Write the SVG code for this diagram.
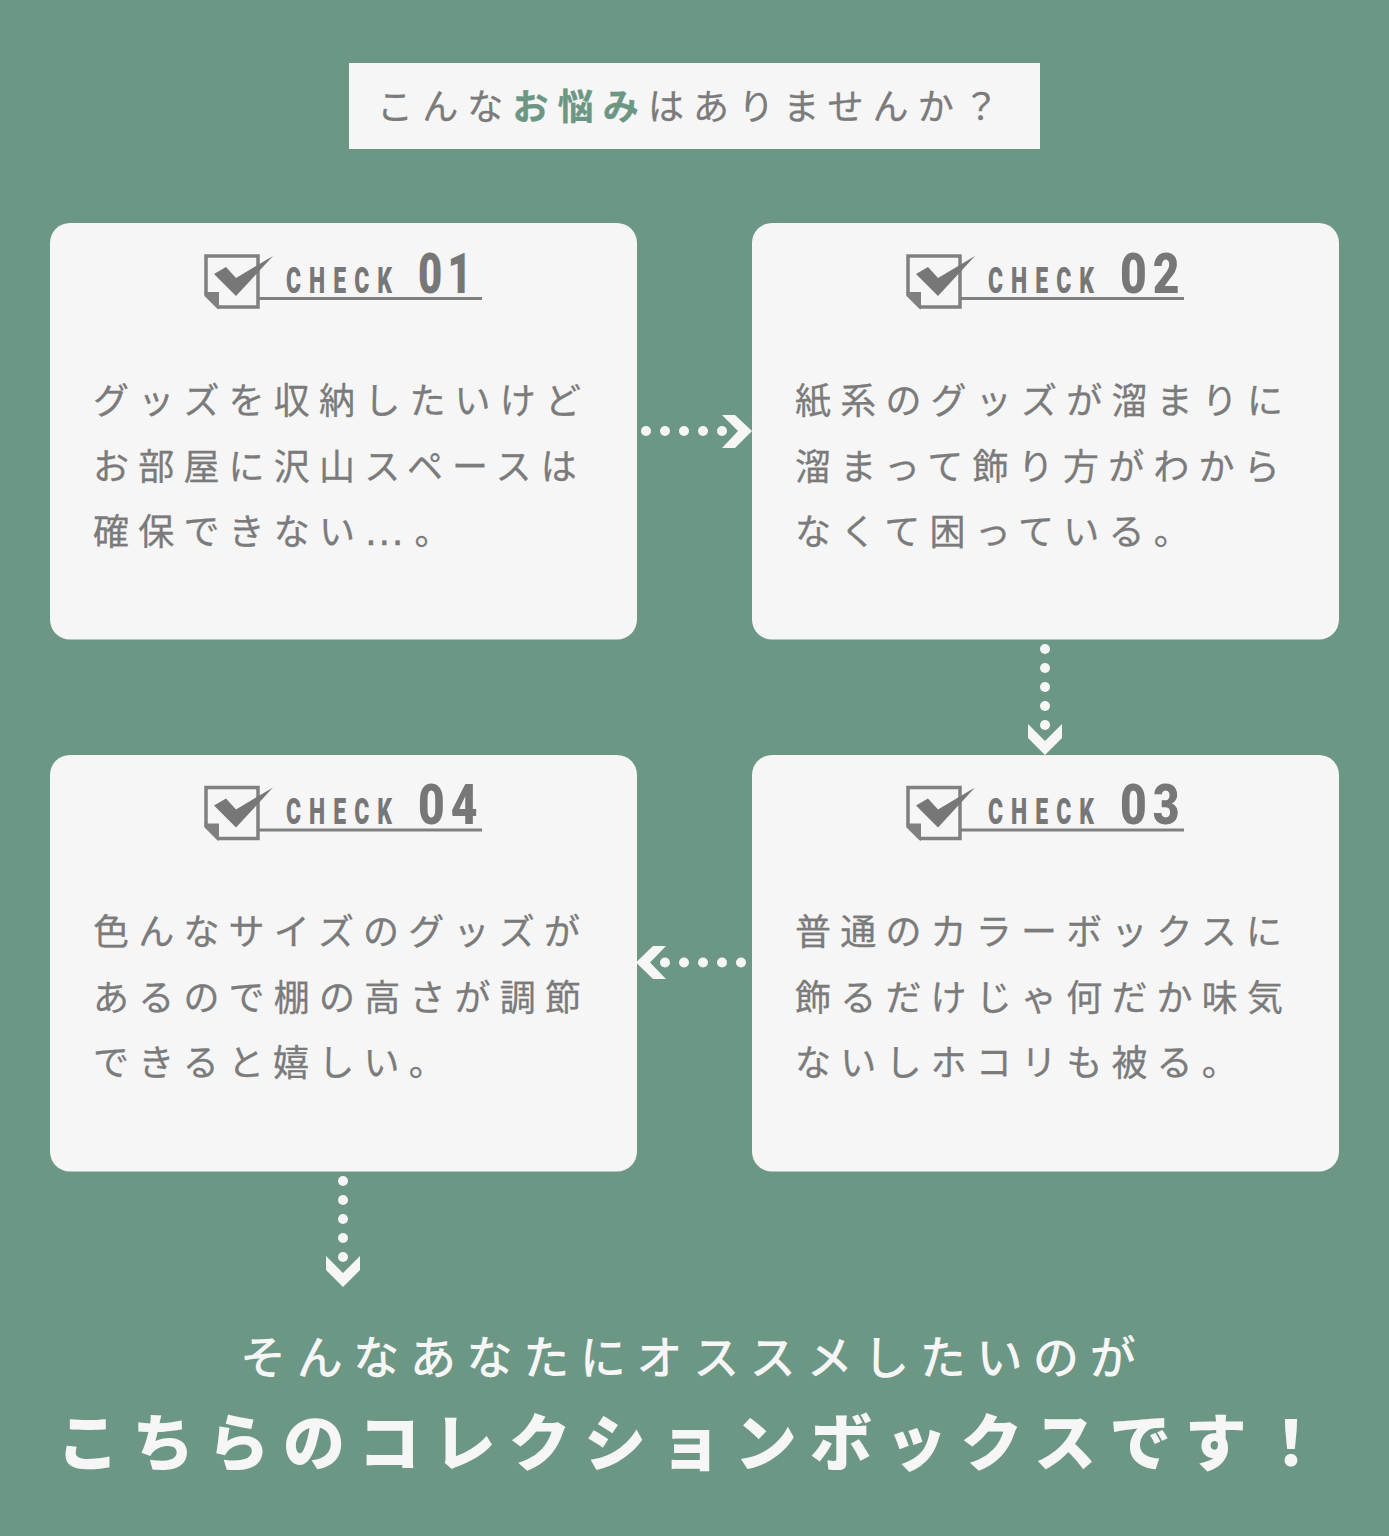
<svg xmlns="http://www.w3.org/2000/svg" width="1389" height="1536" viewBox="0 0 1389 1536">
<style>
.card{fill:#f6f6f6}
.t{font-family:"Noto Sans CJK JP","Noto Sans",sans-serif;font-size:36px;letter-spacing:9.2px;fill:#7b7b7b;stroke:#7b7b7b;stroke-width:.3px}
.chk{font-family:"Roboto","Liberation Sans",sans-serif;font-weight:900;fill:#777;}
.dot{fill:#f6f6f6}
</style>
<defs>
<g id="icon">
<path d="M206 256H258V307H218L206 295Z" fill="none" stroke="#808080" stroke-width="3.500"/>
<path d="M206 293H218V307Z" fill="#808080" stroke="#808080" stroke-width="2"/>
<path d="M214 274L226 267L236 278L273 256L236 296Z" fill="#777"/>
<rect x="258" y="297" width="224" height="3" fill="#808080"/>
</g>
<g id="dotsH"><circle cx="646" cy="431" r="5"/><circle cx="665" cy="431" r="5"/><circle cx="684" cy="431" r="5"/><circle cx="703" cy="431" r="5"/><circle cx="722" cy="431" r="5"/></g>
<g id="dotsV"><circle cx="1045" cy="649" r="5"/><circle cx="1045" cy="668" r="5"/><circle cx="1045" cy="687" r="5"/><circle cx="1045" cy="706" r="5"/><circle cx="1045" cy="725" r="5"/></g>
</defs>
<rect width="1389" height="1536" fill="#6c9785"/>
<g id="title">
<rect x="349" y="63" width="691" height="86" fill="#f6f6f6"/>
<text x="377" y="119.500" font-family="'Noto Sans CJK JP',sans-serif" font-size="36" letter-spacing="9.150" fill="#7b7b7b" stroke="#7b7b7b" stroke-width=".3">こんな<tspan fill="#6c9785" stroke="#6c9785" font-weight="700">お悩み</tspan>はありませんか？</text>
</g>
<g id="check1">
<rect class="card" x="50" y="223" width="587" height="416.500" rx="20"/>
<use href="#icon"/>
<text class="chk" transform="translate(286 293) scale(.62 1)" font-size="37" letter-spacing="13">CHECK</text>
<text class="chk" transform="translate(418 293) scale(.76 1)" font-size="55" letter-spacing="7">01</text>
<text class="t" x="93" y="414">グッズを収納したいけど</text>
<text class="t" x="93" y="479.500">お部屋に沢山スペースは</text>
<text class="t" x="93" y="545">確保できない<tspan font-family="'Liberation Sans',sans-serif" font-size="42" dx="-1">…</tspan>。</text>
</g>
<g id="check2">
<rect class="card" x="752" y="223" width="587" height="416.500" rx="20"/>
<use href="#icon" x="702"/>
<text class="chk" transform="translate(1120 293) scale(.84 1)" font-size="55" letter-spacing="7">02</text>
<text class="chk" transform="translate(988 293) scale(.62 1)" font-size="37" letter-spacing="13">CHECK</text>
<text class="t" x="795" y="414">紙系のグッズが溜まりに</text>
<text class="t" x="795" y="479.500">溜まって飾り方がわから</text>
<text class="t" x="795" y="545">なくて困っている。</text>
</g>
<g id="check3">
<rect class="card" x="752" y="755" width="587" height="416.500" rx="20"/>
<use href="#icon" x="702" y="531.500"/>
<text class="chk" transform="translate(988 824) scale(.62 1)" font-size="37" letter-spacing="13">CHECK</text>
<text class="chk" transform="translate(1120 824) scale(.84 1)" font-size="55" letter-spacing="7">03</text>
<text class="t" x="795" y="945">普通のカラーボックスに</text>
<text class="t" x="795" y="1010.500">飾るだけじゃ何だか味気</text>
<text class="t" x="795" y="1076">ないしホコリも被る。</text>
</g>
<g id="check4">
<rect class="card" x="50" y="755" width="587" height="416.500" rx="20"/>
<use href="#icon" y="531.500"/>
<text class="chk" transform="translate(286 824) scale(.62 1)" font-size="37" letter-spacing="13">CHECK</text>
<text class="chk" transform="translate(418 824) scale(.84 1)" font-size="55" letter-spacing="7">04</text>
<text class="t" x="93" y="945">色んなサイズのグッズが</text>
<text class="t" x="93" y="1010.500">あるので棚の高さが調節</text>
<text class="t" x="93" y="1076">できると嬉しい。</text>
</g>
<g id="connectors" class="dot">
<use href="#dotsH"/>
<path d="M722 415H735L752 431L735 448H722L738 431Z"/>
<use href="#dotsV"/>
<path d="M1028 724V738L1045 755L1062 738V724L1045 741Z"/>
<use href="#dotsH" x="19" y="531.500"/>
<path d="M666 946H653L636 962.500L653 979H666L650 962.500Z"/>
<use href="#dotsV" x="-702" y="532"/>
<path d="M326 1256V1270L343 1287L360 1270V1256L343 1273Z"/>
</g>
<g id="closing">
<text x="240" y="1374" font-family="'Noto Sans CJK JP',sans-serif" font-size="46" letter-spacing="10.650" font-weight="500" fill="#f6f6f6">そんなあなたにオススメしたいのが</text>
<text x="57" y="1466" font-family="'Noto Sans CJK JP',sans-serif" font-size="62" letter-spacing="13.300" font-weight="900" fill="#f6f6f6">こちらのコレクションボックスです！</text>
</g>
</svg>
